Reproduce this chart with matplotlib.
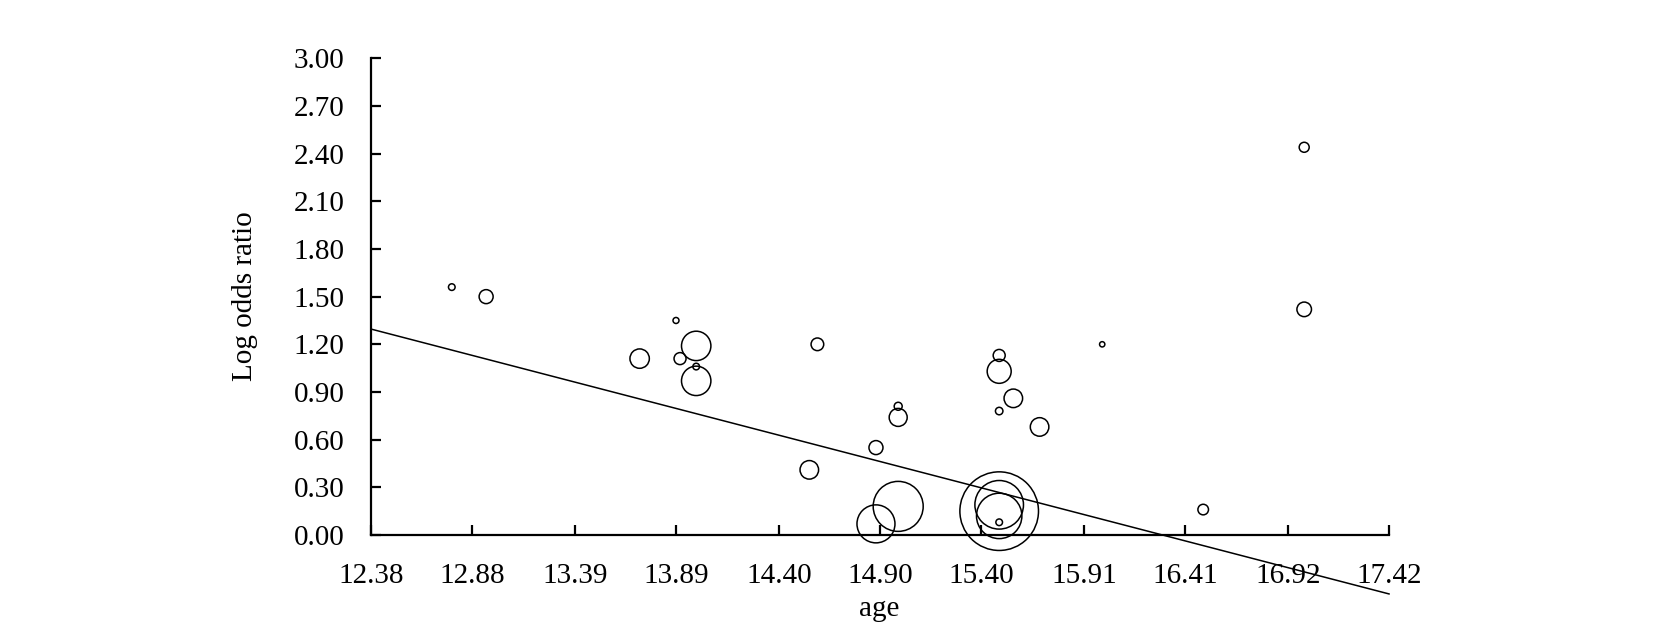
import matplotlib.pyplot as plt
import numpy as np

# study-level data
age = [12.78, 12.95, 13.71, 13.89, 13.91, 13.99, 13.99, 13.99,
       14.55, 14.59, 14.88, 14.88, 14.99, 14.99, 14.99,
       15.49, 15.49, 15.49, 15.56, 15.69, 15.49, 15.49, 15.49, 15.49,
       16.00, 16.50, 17.00, 17.00]
log_or = [1.56, 1.50, 1.11, 1.35, 1.11, 1.19, 1.06, 0.97,
          0.41, 1.20, 0.55, 0.07, 0.81, 0.74, 0.18,
          1.13, 1.03, 0.78, 0.86, 0.68, 0.15, 0.19, 0.12, 0.08,
          1.20, 0.16, 2.44, 1.42]
# relative study weights (bubble area)
weight = [11, 49, 94, 9, 36, 216, 11, 216,
          86, 40, 49, 361, 16, 81, 625,
          36, 144, 14, 86, 86, 1545, 590, 515, 11,
          7, 28, 25, 53]

# meta-regression line
fit_x = [12.38, 17.42]
fit_y = [1.296, -0.371]

xticks = [12.38, 12.88, 13.39, 13.89, 14.40, 14.90, 15.40, 15.91, 16.41, 16.92, 17.42]
yticks = [0.00, 0.30, 0.60, 0.90, 1.20, 1.50, 1.80, 2.10, 2.40, 2.70, 3.00]


def main():
    plt.rcParams['font.family'] = ['Liberation Serif', 'DejaVu Serif']
    fig = plt.figure(figsize=(16.54, 6.35), dpi=100)
    ax = fig.add_axes([0.2243, 0.1575, 0.6155, 0.7507])

    # radius in px -> marker size in points^2
    s = (2 * np.sqrt(np.array(weight)) * 0.72) ** 2
    ax.scatter(age, log_or, s=s, facecolors='none', edgecolors='black',
               linewidths=1.1, clip_on=False, zorder=3)
    ax.plot(fit_x, fit_y, color='black', lw=1.1, clip_on=False)

    ax.set_xlim(12.38, 17.42)
    ax.set_ylim(0, 3.0)
    ax.set_xticks(xticks)
    ax.set_xticklabels(['%.2f' % v for v in xticks])
    ax.set_yticks(yticks)
    ax.set_yticklabels(['%.2f' % v for v in yticks])

    for side in ['top', 'right']:
        ax.spines[side].set_visible(False)
    for side in ['left', 'bottom']:
        ax.spines[side].set_linewidth(1.6)
    ax.tick_params(direction='in', length=7, width=1.6, labelsize=21)
    ax.tick_params(axis='x', pad=20)
    ax.tick_params(axis='y', pad=19)

    ax.set_xlabel('age', fontsize=21)
    ax.set_ylabel('Log odds ratio', fontsize=21)
    ax.xaxis.set_label_coords(0.499, -0.128)
    ax.yaxis.set_label_coords(-0.111, 0.501)

    fig.savefig('out.png', dpi=100)


if __name__ == "__main__":
    main()
